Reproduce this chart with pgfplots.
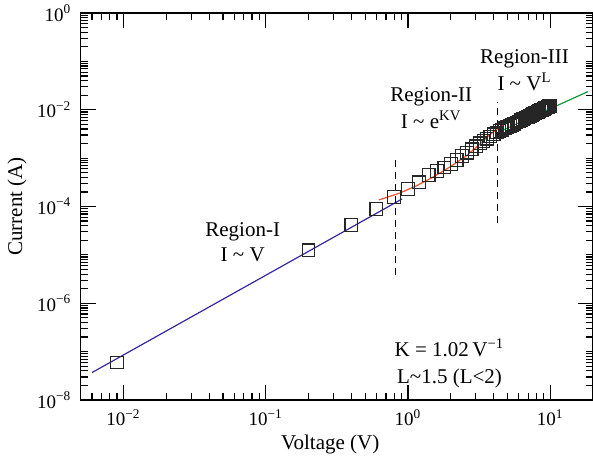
\documentclass[border=0pt]{standalone}
\usepackage{fontspec}
\setmainfont{Liberation Serif}
\usepackage{pgfplots}
\usepackage{pgfplotstable}
\pgfplotsset{compat=1.18}
\definecolor{bluel}{RGB}{52,40,160}
\definecolor{redl}{RGB}{240,80,40}
\definecolor{greenl}{RGB}{20,150,60}
\pgfplotstableread{
V I
0.009 5.96e-8
0.2 1.24e-5
0.4 4.11e-5
0.6 8.79e-5
0.8 1.556e-4
1.0 2.275e-4
1.2 3.148e-4
1.4 4.436e-4
1.6 5.395e-4
1.8 6.397e-4
2.0 7.551e-4
2.2 9.183e-4
2.4 1.099e-3
2.6 1.297e-3
2.8 1.517e-3
3.0 1.758e-3
3.2 2.014e-3
3.4 2.265e-3
3.6 2.523e-3
3.8 2.799e-3
4.0 3.090e-3
4.2 3.388e-3
4.4 3.631e-3
4.6 3.873e-3
4.8 4.130e-3
5.0 4.385e-3
5.2 4.645e-3
5.4 4.909e-3
5.6 5.176e-3
5.8 5.458e-3
6.0 5.728e-3
6.2 6.026e-3
6.4 6.310e-3
6.6 6.607e-3
6.8 6.902e-3
7.0 7.194e-3
7.2 7.499e-3
7.4 7.816e-3
7.6 8.128e-3
7.8 8.453e-3
8.0 8.770e-3
8.2 9.099e-3
8.4 9.419e-3
8.6 9.750e-3
8.8 1.009e-2
9.0 1.042e-2
9.2 1.076e-2
9.4 1.112e-2
9.6 1.148e-2
9.8 1.183e-2
10.0 1.219e-2
}\datatable
\pgfplotstableread{
V I
0.624 1.368e-4
0.871 1.884e-4
1.143 2.667e-4
1.493 4.027e-4
1.959 6.486e-4
2.564 1.109e-3
3.184 1.919e-3
3.741 3.013e-3
4.395 4.345e-3
4.955 5.408e-3
}\redtable
\begin{document}
\fontsize{10.5}{12.6}\selectfont
\begin{tikzpicture}
\begin{axis}[
  scale only axis, width=256.15pt, height=193.5pt,
  xmode=log, ymode=log,
  xmin=0.005, xmax=20, ymin=1e-8, ymax=1,
  xtick={0.01,0.1,1,10},
  xticklabels={10\textsuperscript{−2},10\textsuperscript{−1},10\textsuperscript{0},10\textsuperscript{1}},
  minor xtick={0.006,0.007,0.008,0.009,0.02,0.03,0.04,0.05,0.06,0.07,0.08,0.09,0.2,0.3,0.4,0.5,0.6,0.7,0.8,0.9,2,3,4,5,6,7,8,9,20},
  ytick={1e-8,1e-6,1e-4,1e-2,1},
  yticklabels={10\textsuperscript{−8},10\textsuperscript{−6},10\textsuperscript{−4},10\textsuperscript{−2},10\textsuperscript{0}},
  minor ytick={2e-8,3e-8,4e-8,5e-8,6e-8,7e-8,8e-8,9e-8,1e-7,2e-7,3e-7,4e-7,5e-7,6e-7,7e-7,8e-7,9e-7,
    2e-6,3e-6,4e-6,5e-6,6e-6,7e-6,8e-6,9e-6,1e-5,2e-5,3e-5,4e-5,5e-5,6e-5,7e-5,8e-5,9e-5,
    2e-4,3e-4,4e-4,5e-4,6e-4,7e-4,8e-4,9e-4,1e-3,2e-3,3e-3,4e-3,5e-3,6e-3,7e-3,8e-3,9e-3,
    2e-2,3e-2,4e-2,5e-2,6e-2,7e-2,8e-2,9e-2,0.1,0.2,0.3,0.4,0.5,0.6,0.7,0.8,0.9},
  tick align=inside,
  major tick length=7.5pt, minor tick length=3.6pt,
  every tick/.style={black, line width=0.6pt},
  axis line style={line width=0.7pt},
  tick label style={font=\fontsize{9.5}{11}\selectfont},
  xticklabel style={yshift=-1pt},
  yticklabel style={xshift=-1pt},
  xlabel={Voltage (V)},
  ylabel={Current (A)},
  every axis x label/.style={at={(axis description cs:0.487,-0.116)}, anchor=center},
  every axis y label/.style={at={(axis description cs:-0.1243,0.5)}, rotate=90, anchor=center},
  clip=true,
]
\coordinate (bl) at (rel axis cs:0,0);
\coordinate (tr) at (rel axis cs:1,1);
\addplot[only marks, mark=square, mark size=3.17pt, mark options={line width=0.6pt, draw=black!85, solid}] table[x=V,y=I]{\datatable};
\addplot[bluel, line width=0.6pt] coordinates {(0.00601,3.698e-8) (0.91,1.436e-4)};
\addplot[redl, line width=0.6pt] table[x=V,y=I]{\redtable};
\addplot[greenl, line width=0.6pt] coordinates {(4.169,3.266e-3) (18.37,2.366e-2)};
\addplot[black, line width=0.6pt, dash pattern=on 3.5pt off 2.5pt] coordinates {(0.813,3.86e-6) (0.813,9.18e-4)};
\addplot[black, line width=0.6pt, dash pattern=on 3.5pt off 2.5pt] coordinates {(4.24,4.52e-5) (4.24,1.47e-2)};
\node[anchor=base] at (axis cs:0.0689,2.39e-5) {Region-I};
\node[anchor=base] at (axis cs:0.0689,7.27e-6) {I \textasciitilde{} V};
\node[anchor=base] at (axis cs:1.456,1.47e-2) {Region-II};
\node[anchor=base] at (axis cs:1.456,4.15e-3) {I \textasciitilde{} e\textsuperscript{KV}};
\node[anchor=base] at (axis cs:6.6,9.14e-2) {Region-III};
\node[anchor=base] at (axis cs:6.6,2.56e-2) {I \textasciitilde{} V\textsuperscript{L}};
\node[anchor=base] at (axis cs:1.96,7.8e-8) {K = 1.02\,V\textsuperscript{−1}};
\node[anchor=base] at (axis cs:1.96,2.16e-8) {L\textasciitilde1.5 (L<2)};
\end{axis}
\pgfresetboundingbox
\path ([xshift=-40.35pt,yshift=-30.5pt]bl) rectangle ([yshift=6.5pt]tr);
\end{tikzpicture}
\end{document}
